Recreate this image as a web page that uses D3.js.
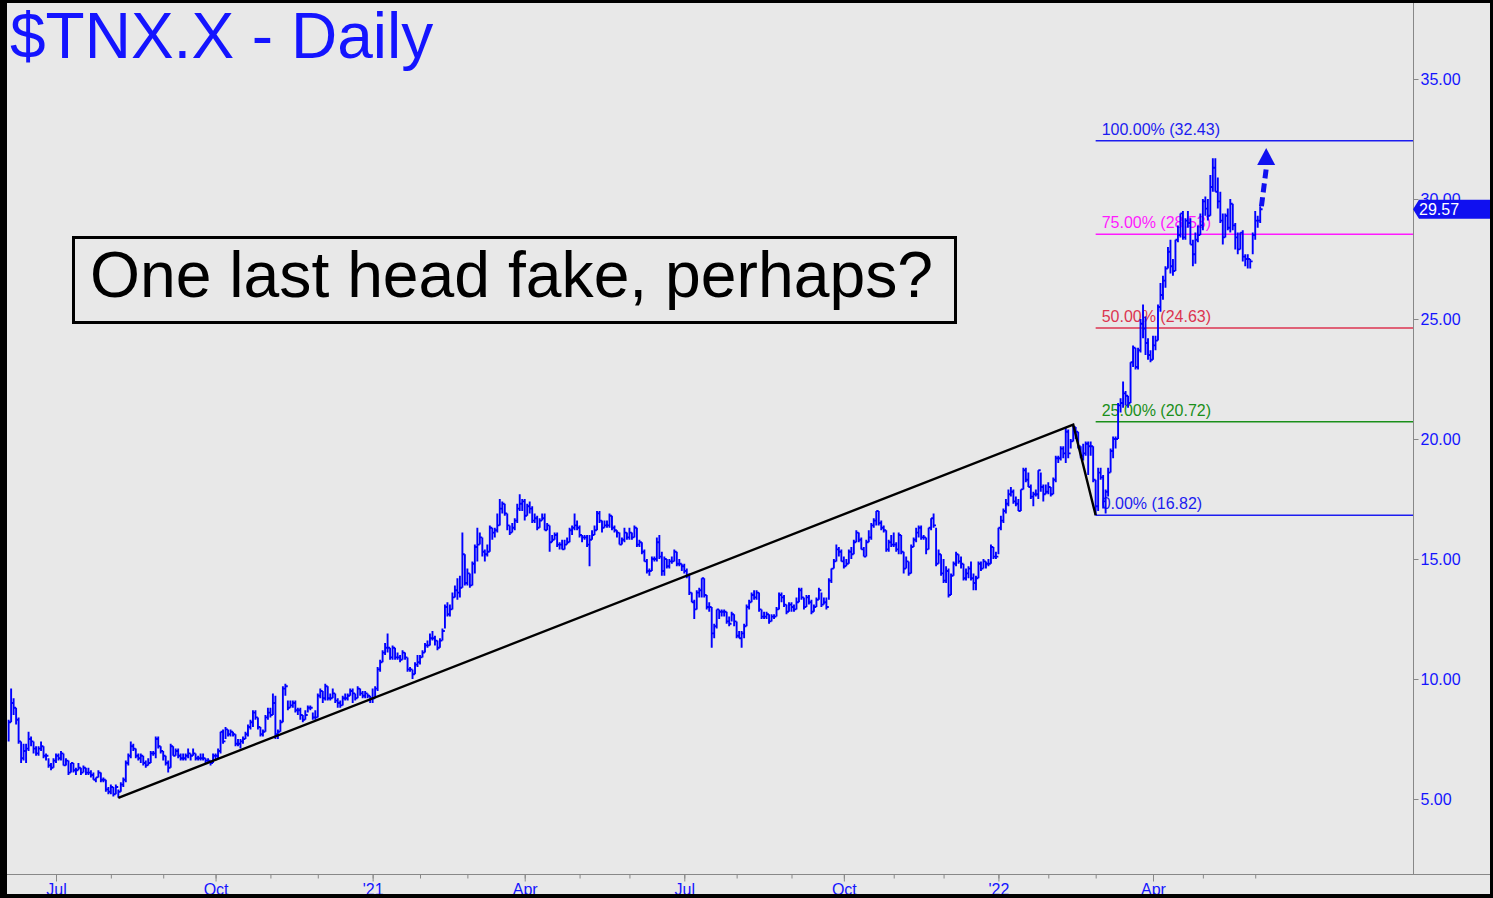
<!DOCTYPE html>
<html>
<head>
<meta charset="utf-8">
<title>$TNX.X - Daily</title>
<script src="https://cdn.jsdelivr.net/npm/d3@7"></script>
<style>
  html, body { margin: 0; padding: 0; background: #000; }
  svg { display: block; font-family: "Liberation Sans", Arial, sans-serif; }
</style>
</head>
<body>
<svg id="chart" width="1493" height="898"></svg>
<script>
'use strict';

// daily bars per month, each [low, high, close]
var jun20 = [[7.4,8.3,8.2],[8.2,9.6,9.0],[8.5,9.2,8.8],[8.1,8.8,8.3],[7.3,8.4,7.4],[6.5,7.4,6.7],[6.6,7.3,7.0],[6.5,7.3,7.1],[7.0,7.8,7.5],[7.2,7.6,7.4],[6.9,7.4,7.1],[6.8,7.2,6.9],[6.8,7.2,7.1],[7.0,7.4,7.2],[6.7,7.2,6.8],[6.6,6.9,6.8],[6.3,6.7,6.4],[6.2,6.5,6.3],[6.3,6.7,6.6]];
var jul20 = [[6.5,6.9,6.8],[6.6,6.9,6.7],[6.6,7.0,6.9],[6.4,6.9,6.4],[6.4,6.7,6.6],[6.0,6.6,6.1],[6.1,6.5,6.5],[6.1,6.5,6.2],[6.0,6.3,6.2],[6.2,6.5,6.3],[6.0,6.3,6.1],[6.1,6.4,6.3],[6.0,6.3,6.1],[6.0,6.3,6.1],[5.9,6.2,6.0],[5.8,6.1,5.8],[5.7,5.9,5.9],[5.9,6.2,6.1],[5.7,6.1,5.8],[5.7,5.9,5.8],[5.3,5.8,5.4],[5.2,5.5,5.3]];
var aug20 = [[5.2,5.6,5.5],[5.1,5.5,5.2],[5.2,5.6,5.5],[5.05,5.4,5.3],[5.3,5.7,5.6],[5.5,5.9,5.8],[5.7,6.6,6.5],[6.4,6.9,6.8],[6.7,7.4,7.2],[7.0,7.3,7.1],[6.7,7.1,6.8],[6.6,6.9,6.7],[6.5,6.9,6.8],[6.4,6.8,6.5],[6.3,6.6,6.4],[6.4,6.7,6.5],[6.5,7.0,6.9],[6.8,7.0,6.9],[6.7,7.6,7.5],[7.1,7.6,7.2],[6.9,7.2,7.0]];
var sep20 = [[6.6,7.0,6.8],[6.4,6.8,6.5],[6.1,6.6,6.3],[6.3,7.3,7.2],[6.8,7.2,6.8],[6.8,7.1,7.0],[6.7,7.1,6.8],[6.6,6.9,6.7],[6.6,6.9,6.7],[6.6,6.9,6.8],[6.7,7.1,6.9],[6.6,6.9,6.8],[6.8,7.1,6.9],[6.6,6.9,6.7],[6.6,6.8,6.7],[6.6,6.9,6.7],[6.6,6.9,6.7],[6.5,6.7,6.6],[6.5,6.7,6.6],[6.4,6.6,6.5],[6.5,6.9,6.8]];
var oct20 = [[6.6,6.9,6.8],[6.7,7.1,7.0],[6.9,7.8,7.8],[7.3,7.9,7.4],[7.5,8.0,7.9],[7.6,7.9,7.7],[7.6,7.9,7.8],[7.6,7.8,7.7],[7.2,7.7,7.3],[7.2,7.5,7.3],[7.1,7.5,7.4],[7.3,7.6,7.5],[7.5,7.8,7.7],[7.6,8.1,8.0],[7.9,8.3,8.2],[8.0,8.7,8.6],[8.3,8.7,8.4],[7.9,8.4,8.0],[7.6,8.0,7.7],[7.6,7.9,7.8],[7.8,8.5,8.4],[8.3,8.8,8.6]];
var nov20 = [[8.4,8.8,8.5],[8.5,9.4,9.0],[7.5,9.3,7.7],[7.5,7.9,7.8],[7.8,8.3,8.2],[8.2,9.7,9.6],[9.3,9.8,9.7],[8.7,9.1,8.8],[8.8,9.1,8.9],[8.8,9.1,9.0],[8.6,9.1,8.7],[8.5,8.8,8.7],[8.3,8.8,8.5],[8.2,8.5,8.3],[8.3,8.7,8.5],[8.6,8.9,8.8],[8.7,8.9,8.8],[8.3,8.6,8.4],[8.3,8.7,8.4]];
var dec20 = [[8.4,9.4,9.3],[9.2,9.6,9.5],[9.0,9.5,9.2],[9.1,9.8,9.7],[9.1,9.7,9.2],[9.1,9.4,9.2],[9.2,9.6,9.4],[9.0,9.4,9.1],[8.8,9.2,9.0],[8.8,9.1,8.9],[8.9,9.3,9.2],[9.1,9.4,9.2],[9.1,9.4,9.3],[9.3,9.6,9.5],[9.0,9.6,9.4],[9.1,9.4,9.2],[9.2,9.7,9.6],[9.3,9.6,9.4],[9.2,9.5,9.3],[9.2,9.5,9.4],[9.2,9.4,9.3],[9.0,9.3,9.2]];
var jan21 = [[9.0,9.6,9.2],[9.2,9.7,9.6],[9.5,10.5,10.4],[10.3,10.8,10.7],[10.7,11.2,11.1],[11.0,11.5,11.3],[11.1,11.9,11.3],[10.8,11.3,10.9],[10.8,11.4,11.3],[10.8,11.3,10.9],[10.8,11.1,10.9],[10.7,11.0,10.8],[10.8,11.2,11.1],[10.8,11.1,10.9],[10.3,10.9,10.4],[10.3,10.5,10.4],[10.0,10.4,10.2],[10.2,10.7,10.6],[10.5,11.0,10.7]];
var feb21 = [[10.6,11.0,10.9],[10.9,11.2,11.1],[11.1,11.5,11.4],[11.3,11.6,11.4],[11.4,11.9,11.7],[11.6,12.0,11.7],[11.4,11.8,11.6],[11.2,11.6,11.3],[11.3,11.7,11.6],[11.6,12.1,12.0],[12.1,13.1,13.0],[12.6,13.2,12.7],[12.6,13.1,12.9],[12.9,13.6,13.4],[13.4,13.9,13.7],[13.3,14.2,13.6],[13.4,14.3,13.8],[13.8,16.1,15.2],[13.9,15.2,14.0]];
var mar21 = [[13.9,14.6,14.4],[13.8,14.4,13.9],[13.9,14.9,14.8],[14.4,15.6,15.5],[14.9,16.3,15.6],[15.6,16.1,15.9],[15.1,15.9,15.3],[14.9,15.4,15.2],[15.1,15.6,15.3],[15.3,16.4,16.3],[15.8,16.3,16.1],[15.9,16.3,16.2],[16.1,16.9,16.4],[16.4,17.5,17.1],[16.9,17.4,17.3],[16.8,17.3,16.9],[16.2,16.9,16.4],[16.0,16.4,16.1],[16.1,16.5,16.3],[16.2,16.7,16.6],[16.5,17.3,17.1],[17.0,17.7,17.3],[17.0,17.5,17.4]];
var apr21 = [[16.6,17.5,16.8],[16.8,17.3,17.2],[16.9,17.4,17.1],[16.5,17.2,16.6],[16.5,16.9,16.7],[16.2,16.8,16.3],[16.3,16.7,16.6],[16.6,16.9,16.7],[16.2,16.9,16.2],[16.2,16.5,16.4],[15.3,16.4,15.7],[15.7,16.0,15.8],[15.8,16.1,16.0],[15.5,16.1,15.6],[15.4,15.7,15.6],[15.4,15.8,15.4],[15.4,15.8,15.6],[15.6,15.9,15.7],[15.7,16.3,16.2],[16.0,16.4,16.3],[16.2,16.9,16.4],[16.2,16.6,16.3]];
var may21 = [[15.9,16.4,16.0],[15.7,16.0,15.9],[15.8,16.0,15.9],[15.5,16.0,15.6],[14.7,16.0,15.8],[15.8,16.2,16.0],[16.0,16.4,16.2],[16.2,17.0,16.9],[16.5,17.0,16.6],[16.1,16.6,16.3],[16.3,16.6,16.4],[16.3,16.6,16.4],[16.3,16.9,16.8],[16.2,16.8,16.3],[16.1,16.4,16.2],[15.9,16.2,16.1],[15.6,16.1,15.6],[15.6,15.9,15.8],[15.7,16.3,16.1],[15.8,16.1,15.9]];
var jun21 = [[15.8,16.3,16.1],[15.8,16.1,15.9],[15.9,16.4,16.3],[15.5,16.3,15.6],[15.5,15.8,15.7],[15.2,15.7,15.3],[14.9,15.4,14.9],[14.4,15.0,14.5],[14.3,14.6,14.5],[14.5,15.1,15.0],[14.9,15.1,15.0],[14.9,15.9,15.7],[15.0,16.0,15.1],[14.3,15.3,14.5],[14.3,15.1,15.0],[14.6,15.0,14.7],[14.6,15.0,14.9],[14.8,15.1,14.9],[14.9,15.4,15.3],[14.7,15.3,14.8],[14.7,15.0,14.8],[14.5,14.8,14.7]];
var jul21 = [[14.4,14.8,14.5],[14.2,14.6,14.3],[13.5,14.4,13.6],[13.2,13.6,13.2],[12.5,13.3,12.9],[12.9,13.7,13.6],[13.4,13.8,13.7],[13.4,14.2,14.2],[13.4,14.2,13.5],[12.9,13.5,13.0],[12.8,13.2,13.0],[11.3,13.0,11.9],[11.7,12.3,12.2],[12.1,12.9,12.9],[12.5,12.9,12.8],[12.6,12.9,12.8],[12.6,12.9,12.8],[12.3,12.8,12.4],[12.2,12.6,12.3],[12.4,12.8,12.7],[12.2,12.7,12.4]];
var aug21 = [[11.7,12.4,11.8],[11.7,12.0,11.7],[11.3,12.0,11.9],[11.7,12.3,12.2],[12.2,13.1,13.0],[12.9,13.3,13.2],[13.2,13.6,13.5],[13.3,13.7,13.4],[13.3,13.7,13.6],[12.8,13.6,12.9],[12.5,12.9,12.6],[12.5,12.8,12.6],[12.5,12.8,12.7],[12.3,12.7,12.4],[12.4,12.7,12.6],[12.5,12.7,12.6],[12.6,13.0,12.9],[12.9,13.6,13.5],[13.2,13.6,13.4],[13.0,13.5,13.1],[12.7,13.1,12.8],[12.8,13.2,13.1]];
var sep21 = [[12.8,13.2,13.0],[12.8,13.1,12.9],[12.9,13.4,13.2],[13.2,13.8,13.7],[13.3,13.8,13.4],[12.9,13.4,13.0],[13.0,13.5,13.4],[13.1,13.5,13.2],[12.7,13.3,12.8],[12.8,13.1,13.0],[13.0,13.4,13.3],[13.3,13.8,13.7],[13.0,13.6,13.1],[13.1,13.4,13.2],[12.9,13.4,13.0],[13.3,14.2,14.1],[14.0,14.6,14.6],[14.6,15.0,14.9],[14.9,15.6,15.4],[15.1,15.5,15.3],[14.9,15.4,14.9]];
var oct21 = [[14.6,15.1,14.7],[14.7,15.0,14.8],[14.8,15.4,15.3],[15.0,15.5,15.2],[15.2,15.8,15.7],[15.7,16.2,16.1],[15.7,16.1,15.8],[15.4,15.9,15.4],[15.1,15.5,15.1],[15.1,15.8,15.7],[15.7,16.2,15.9],[15.8,16.5,16.4],[16.3,16.7,16.6],[16.4,17.0,17.0],[16.4,17.0,16.5],[16.2,16.6,16.3],[16.1,16.4,16.2],[15.3,16.2,15.4],[15.3,15.8,15.7],[15.5,16.0,15.6]];
var nov21 = [[15.5,16.1,15.6],[15.3,15.7,15.4],[15.2,16.1,16.0],[15.2,16.0,15.3],[14.4,15.3,14.6],[14.6,15.1,14.9],[14.3,14.9,14.4],[14.4,15.6,15.5],[15.5,15.9,15.8],[15.7,16.3,16.1],[15.9,16.4,16.3],[15.8,16.4,15.9],[15.8,16.0,15.9],[15.2,15.9,15.4],[15.4,16.3,16.3],[16.2,16.7,16.7],[16.3,16.9,16.4],[14.7,16.3,14.8],[14.8,15.4,15.2],[14.3,15.2,14.4]];
var dec21 = [[14.0,15.0,14.1],[14.0,14.7,14.5],[13.4,14.6,13.5],[13.5,14.4,14.3],[14.3,14.9,14.8],[14.7,15.3,15.2],[14.8,15.2,14.9],[14.6,15.1,14.8],[14.1,14.8,14.2],[14.1,14.6,14.4],[14.2,14.7,14.6],[14.1,14.9,14.2],[13.7,14.4,14.0],[13.7,14.3,14.2],[14.2,14.9,14.8],[14.5,14.9,14.6],[14.6,15.0,14.9],[14.6,14.9,14.8],[14.7,15.0,14.8],[14.8,15.6,15.5],[15.0,15.5,15.1],[15.0,15.3,15.1]];
var jan22 = [[15.2,16.3,16.3],[16.2,16.8,16.6],[16.5,17.1,17.0],[16.9,17.5,17.3],[17.2,17.9,17.7],[17.6,18.0,17.8],[17.3,17.9,17.4],[17.2,17.6,17.3],[17.0,17.5,17.0],[17.0,17.9,17.9],[17.9,18.8,18.7],[18.2,18.8,18.3],[18.0,18.6,18.0],[17.5,18.1,17.6],[17.2,17.8,17.7],[17.6,17.9,17.7],[17.5,18.7,18.7],[17.8,18.6,18.0],[17.4,18.1,17.7],[17.7,18.1,17.8]];
var feb22 = [[17.7,18.2,18.0],[17.6,18.0,17.7],[17.7,18.4,18.3],[18.2,19.3,19.2],[19.0,19.3,19.2],[19.1,19.7,19.6],[19.2,19.7,19.4],[19.0,20.5,20.3],[19.2,20.4,19.4],[19.6,20.0,19.9],[19.9,20.6,20.5],[20.0,20.5,20.3],[19.6,20.3,19.7],[19.2,19.7,19.3],[19.1,19.8,19.4],[19.3,19.9,19.8],[18.5,19.9,19.7],[19.3,19.9,19.7],[18.2,19.7,18.3]];
var mar22 = [[16.82,18.3,17.2],[17.0,18.8,18.6],[18.3,18.8,18.4],[17.1,18.5,17.4],[16.9,17.9,17.8],[17.6,18.8,18.6],[18.6,19.6,19.5],[19.2,20.1,20.0],[19.6,20.1,20.0],[20.0,21.5,21.4],[21.1,21.7,21.5],[21.3,22.4,21.9],[21.4,22.0,21.8],[21.3,21.8,21.5],[21.5,23.2,23.2],[23.0,23.9,23.8],[22.9,23.8,23.0],[22.9,23.8,23.7],[23.6,25.0,24.8],[24.2,25.6,24.6],[23.5,25.1,24.0],[23.3,24.2,23.5],[23.2,23.7,23.3]];
var apr22 = [[23.3,24.3,23.9],[23.7,24.3,24.1],[24.1,25.6,25.5],[25.3,26.5,26.0],[25.8,26.8,26.6],[26.3,27.2,27.1],[27.1,28.0,27.8],[26.9,28.3,27.2],[26.8,27.5,27.0],[27.0,28.3,28.3],[28.2,28.9,28.5],[28.4,29.4,29.4],[28.3,29.5,28.4],[28.3,29.2,29.1],[28.8,29.5,29.0],[28.1,29.2,28.1],[27.2,28.3,27.7],[27.3,28.6,28.3],[28.2,28.9,28.5],[28.5,29.4,28.9]];
var may22 = [[28.7,30.0,29.9],[29.3,30.1,29.6],[29.1,30.0,29.3],[29.3,31.0,30.5],[30.3,31.7,31.3],[30.3,31.7,30.3],[29.6,30.9,29.9],[29.0,30.3,29.1],[28.1,29.4,28.4],[28.4,29.4,29.3],[28.7,29.6,28.8],[28.6,30.0,29.8],[28.7,29.8,28.9],[27.9,29.0,28.4],[27.7,28.6,27.9],[27.9,28.6,28.6],[27.4,28.7,27.6],[27.2,27.7,27.5],[27.1,27.7,27.5],[27.1,27.5,27.4],[27.7,28.6,28.5]];
var jun22 = [[28.3,29.5,29.1],[28.8,29.3,29.1],[29.0,29.7,29.57]];

var monthBars = [jun20, jul20, aug20, sep20, oct20, nov20, dec20, jan21, feb21, mar21, apr21, may21, jun21,
                 jul21, aug21, sep21, oct21, nov21, dec21, jan22, feb22, mar22, apr22, may22, jun22];
var monthLabels = ["Jun", "Jul", "Aug", "Sep", "Oct", "Nov", "Dec", "'21", "Feb", "Mar", "Apr", "May", "Jun",
                   "Jul", "Aug", "Sep", "Oct", "Nov", "Dec", "'22", "Feb", "Mar", "Apr", "May", "Jun"];
var labeledMonths = ["Jul", "Oct", "'21", "Apr", "'22"];

var priceTicks = [5, 10, 15, 20, 25, 30, 35];

var fibLevels = [32.43, 28.53, 24.63, 20.72, 16.82];
var fibNames = ["100.00%", "75.00%", "50.00%", "25.00%", "0.00%"];
var fibColors = ["#1c1cf0", "#ff1aff", "#dc3450", "#1a8f1a", "#1c1cf0"];

var arrowStart = 29.7, arrowEnd = 31.42, arrowTip = 32.12;

window.onload = function(){
   var svg = d3.select("#chart");
   var blue = "#1414ff";

   svg.append("rect").attr("width", 1493).attr("height", 898).attr("fill", "#000");
   svg.append("rect").attr("x", 7).attr("y", 3).attr("width", 1483).attr("height", 891).attr("fill", "#e8e8e8");

   // flatten months into one bar list
   var bars = [], monthStart = [];
   monthBars.forEach(function(arr) {
      monthStart.push(bars.length);
      arr.forEach(function(b) {
         bars.push({ i: bars.length, lo: b[0], hi: b[1], cl: b[2] });
      });
   });

   var x = d3.scaleLinear().domain([monthStart[1], monthStart[22]]).range([56, 1153]);
   var y = d3.scaleLinear().domain([5, 35]).range([799, 79]);

   svg.append("defs").append("clipPath").attr("id", "plot")
      .append("rect").attr("x", 7).attr("y", 3).attr("width", 1406).attr("height", 871);

   // title
   svg.append("text")
      .attr("x", 10).attr("y", 58)
      .style("font-size", "64px")
      .attr("fill", blue)
      .text("$TNX.X - Daily");

   // comment box
   svg.append("rect")
      .attr("x", 73.5).attr("y", 237.5).attr("width", 882).attr("height", 85)
      .attr("fill", "none").attr("stroke", "#000").attr("stroke-width", 3);
   svg.append("text")
      .attr("x", 90).attr("y", 297)
      .attr("textLength", 843).attr("lengthAdjust", "spacingAndGlyphs")
      .style("font-size", "64px")
      .attr("fill", "#000")
      .text("One last head fake, perhaps?");

   // fib retracement levels from the March low
   var marStart = monthStart[21];
   var lowBar = d3.least(bars.slice(marStart, marStart + mar22.length), function(d) { return d.lo; });
   var fib = svg.append("g");
   fibLevels.forEach(function(v, k) {
      fib.append("line")
         .attr("x1", x(lowBar.i)).attr("x2", 1413)
         .attr("y1", y(v)).attr("y2", y(v))
         .attr("stroke", fibColors[k]).attr("stroke-width", 1.5);
      fib.append("text")
         .attr("x", x(lowBar.i) + 6).attr("y", y(v) - 6)
         .style("font-size", "16px")
         .attr("fill", fibColors[k])
         .text(fibNames[k] + " (" + v.toFixed(2) + ")");
   });

   // price bars
   var barPath = bars.map(function(d) {
      var bx = x(d.i);
      return "M" + bx + "," + y(d.hi) + "V" + y(d.lo) + "M" + bx + "," + y(d.cl) + "h2.4";
   }).join("");
   svg.append("path")
      .attr("clip-path", "url(#plot)")
      .attr("d", barPath)
      .attr("fill", "none")
      .attr("stroke", "#0000ff")
      .attr("stroke-width", 1.9);

   // trendlines: 2020 low -> Feb 2022 high -> March low
   var startBar = d3.least(bars, function(d) { return d.lo; });
   var peakBar = d3.greatest(bars.slice(0, marStart), function(d) { return d.hi; });
   var trendPts = [[startBar.i, startBar.lo], [peakBar.i, peakBar.hi], [lowBar.i, lowBar.lo]];
   svg.append("path")
      .attr("d", d3.line().x(function(d) { return x(d[0]); }).y(function(d) { return y(d[1]); })(trendPts))
      .attr("fill", "none")
      .attr("stroke", "#000")
      .attr("stroke-width", 2.4);

   // dashed target arrow
   var last = bars[bars.length - 1];
   svg.append("line")
      .attr("x1", x(last.i + 0.5)).attr("y1", y(arrowStart))
      .attr("x2", x(last.i + 2.6)).attr("y2", y(arrowEnd))
      .attr("stroke", "#1010f0").attr("stroke-width", 5)
      .attr("stroke-dasharray", "9,5");
   var tipX = x(last.i + 2.4);
   svg.append("path")
      .attr("d", "M" + (tipX - 9) + "," + y(arrowEnd) + "L" + (tipX + 9) + "," + y(arrowEnd) + "L" + tipX + "," + y(arrowTip) + "Z")
      .attr("fill", "#1010f0");

   // axes
   svg.append("line").attr("x1", 1413.5).attr("x2", 1413.5).attr("y1", 3).attr("y2", 874)
      .attr("stroke", "#888").attr("stroke-width", 1);
   svg.append("line").attr("x1", 7).attr("x2", 1490).attr("y1", 874.5).attr("y2", 874.5)
      .attr("stroke", "#888").attr("stroke-width", 1);

   var yAxis = svg.append("g")
      .attr("transform", "translate(1413.5,0)")
      .call(d3.axisRight(y).tickValues(priceTicks).tickFormat(d3.format(".2f")).tickSize(5).tickPadding(2));
   yAxis.select(".domain").remove();
   yAxis.selectAll("line").attr("stroke", "#888");
   yAxis.selectAll("text").attr("fill", blue).style("font-size", "16px")
      .style("font-family", "'Liberation Sans', Arial, sans-serif");

   var minorTicks = monthStart.slice(1);
   var majorTicks = minorTicks.filter(function(s, k) { return labeledMonths.indexOf(monthLabels[k + 1]) >= 0; });

   var xMinor = svg.append("g")
      .attr("transform", "translate(0,874.5)")
      .call(d3.axisBottom(x).tickValues(minorTicks).tickSize(4).tickFormat(""));
   xMinor.select(".domain").remove();
   xMinor.selectAll("line").attr("stroke", "#888");

   var xMajor = svg.append("g")
      .attr("transform", "translate(0,874.5)")
      .call(d3.axisBottom(x).tickValues(majorTicks).tickSize(7)
         .tickFormat(function(s) { return monthLabels[monthStart.indexOf(s)]; }));
   xMajor.select(".domain").remove();
   xMajor.selectAll("line").attr("stroke", "#888");
   xMajor.selectAll("text")
      .attr("y", 20).attr("dy", 0)
      .attr("fill", blue)
      .style("font-size", "16px")
      .style("font-family", "'Liberation Sans Narrow', 'Liberation Sans', Arial, sans-serif");

   // last price tag
   var ty = y(last.cl);
   svg.append("path")
      .attr("d", "M1413," + ty + "L1419," + (ty - 9.5) + "L1490," + (ty - 9.5) + "L1490," + (ty + 9.5) + "L1419," + (ty + 9.5) + "Z")
      .attr("fill", "#1010f0");
   svg.append("text")
      .attr("x", 1419).attr("y", ty + 6)
      .style("font-size", "16px")
      .attr("fill", "#fff")
      .text(last.cl.toFixed(2));

   // outer frame
   svg.append("rect").attr("x", 0).attr("y", 894).attr("width", 1493).attr("height", 4).attr("fill", "#000");
   svg.append("rect").attr("x", 1490).attr("y", 0).attr("width", 3).attr("height", 898).attr("fill", "#000");
};
</script>
</body>
</html>
